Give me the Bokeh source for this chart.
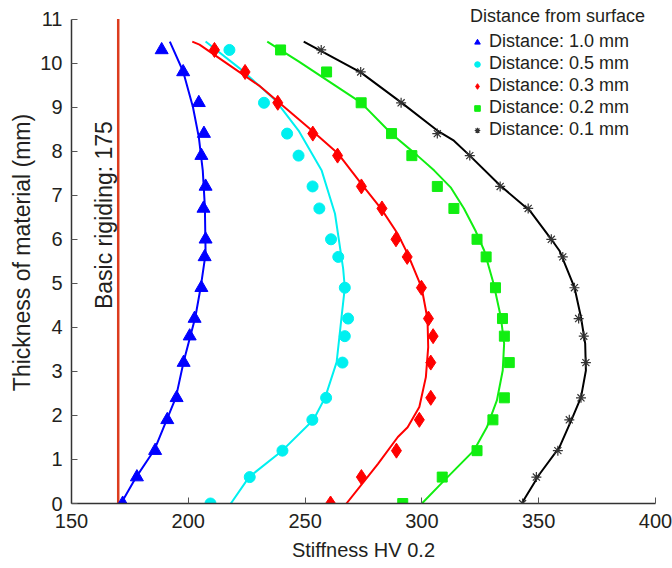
import math
from bokeh.plotting import figure
from bokeh.models import FixedTicker, Legend, LegendItem
from bokeh.core.properties import value
from bokeh.embed import file_html
from bokeh.resources import INLINE

FONT = "Liberation Sans"
TXT = "#231F20"

# ---- measured points (depth in mm) ----
depth = [10.3, 9.8, 9.1, 8.4, 7.9, 7.2, 6.7, 6.0, 5.6, 4.9, 4.2, 3.8, 3.2, 2.4, 1.9, 1.2, 0.6, 0.0]
depth_05 = [10.3, 9.1, 8.4, 7.9, 7.2, 6.7, 6.0, 5.6, 4.9, 4.2, 3.8, 3.2, 2.4, 1.9, 1.2, 0.6, 0.0]

hv_10 = [188.6, 197.8, 204.5, 206.7, 205.6, 207.4, 206.5, 207.4, 207.0, 205.6, 202.7, 200.6, 198.0, 195.0, 191.0, 185.8, 178.0, 171.9]
hv_05 = [217.6, 232.4, 242.3, 247.2, 253.2, 256.1, 261.1, 264.2, 267.0, 268.4, 267.0, 266.0, 259.0, 253.1, 240.3, 226.3, 209.5]
hv_03 = [211.2, 224.3, 238.3, 253.3, 263.9, 274.1, 282.9, 288.9, 293.7, 299.8, 302.8, 304.8, 303.8, 303.8, 298.9, 289.1, 274.1, 260.9]
hv_02 = [239.5, 259.2, 274.0, 287.0, 295.7, 306.6, 313.7, 323.6, 327.5, 331.5, 334.5, 335.3, 337.4, 335.3, 330.4, 323.6, 308.7, 291.8]
hv_01 = [256.9, 273.8, 291.1, 306.6, 320.5, 333.5, 345.5, 355.4, 360.3, 365.3, 367.1, 369.3, 370.2, 368.1, 363.1, 358.2, 349.0, 343.1]

# ---- fitted curves ----
fit10_x = [192.1, 197.8, 202.0, 204.5, 206.2, 207.1, 207.4, 205.3, 203.0, 198.0, 194.7, 185.5, 177.7, 171.2]
fit10_y = [10.49, 9.81, 9.0, 8.32, 7.56, 6.73, 5.67, 4.91, 4.23, 3.22, 2.41, 1.22, 0.6, 0.0]
fit05_x = [207.4, 223.2, 237.4, 247.2, 257.1, 262.8, 266.3, 267.0, 265.6, 263.5, 258.6, 253.6, 240.2, 226.0, 218.2]
fit05_y = [10.49, 9.83, 9.15, 8.47, 7.56, 6.58, 5.33, 4.9, 4.23, 3.21, 2.41, 1.90, 1.20, 0.60, 0.0]
fit03_x = [201.7, 204.8, 230.3, 252.9, 264.2, 274.1, 282.6, 289.7, 293.9, 299.9, 302.4, 302.7, 301.7, 298.9, 293.9, 289.7, 281.2, 267.7]
fit03_y = [10.49, 10.42, 9.49, 8.47, 7.94, 7.26, 6.69, 6.12, 5.67, 4.90, 4.19, 3.55, 2.87, 2.19, 1.73, 1.51, 0.90, 0.0]
fit02_x = [233.8, 247.2, 273.8, 287.1, 298.1, 305.3, 312.3, 318.0, 322.9, 326.7, 330.7, 333.8, 335.2, 334.6, 332.1, 327.8, 322.2, 309.5, 300.0]
fit02_y = [10.49, 10.04, 9.11, 8.39, 7.90, 7.56, 7.18, 6.70, 6.20, 5.74, 4.99, 4.23, 3.63, 3.02, 2.34, 1.73, 1.20, 0.52, 0.0]
fit01_x = [249.4, 273.8, 291.1, 306.6, 313.7, 320.5, 333.5, 346.2, 355.4, 358.9, 365.3, 368.1, 369.9, 370.2, 368.1, 363.9, 358.9, 350.4, 342.7]
fit01_y = [10.49, 9.79, 9.11, 8.47, 8.24, 7.90, 7.22, 6.65, 6.00, 5.74, 4.91, 4.23, 3.63, 3.02, 2.41, 1.88, 1.28, 0.67, 0.0]

base_x = [170, 170]
base_y = [0, 11]
base_label = "Basic rigiding: 175"

x_ticks = [150, 200, 250, 300, 350, 400]
y_ticks = list(range(0, 12))

labels = ["Distance: 1.0 mm", "Distance: 0.5 mm", "Distance: 0.3 mm", "Distance: 0.2 mm", "Distance: 0.1 mm"]

# y range extends a little above 11 so the legend title (above the axis top) is not clipped
p = figure(width=672, height=568, x_range=(150, 400), y_range=(0, 11.4),
           output_backend="svg", toolbar_location=None,
           min_border_left=71, min_border_right=17, min_border_top=1, min_border_bottom=65)
p.outline_line_color = None
p.xgrid.visible = False
p.ygrid.visible = False
p.background_fill_color = "white"

# baseline
p.line(base_x, base_y, line_color="#DC3C1E", line_width=2.5)
p.text(x=[164.0], y=[6.55], text=[base_label], angle=math.pi / 2,
       text_align="center", text_baseline="middle",
       text_font=value(FONT), text_font_size="23px", text_color=TXT)

# fitted curves
p.line(fit10_x, fit10_y, line_color="#0000FF", line_width=2)
p.line(fit05_x, fit05_y, line_color="#00F0F0", line_width=2)
p.line(fit03_x, fit03_y, line_color="#FF0000", line_width=2)
p.line(fit02_x, fit02_y, line_color="#11EE11", line_width=2)
p.line(fit01_x, fit01_y, line_color="#000000", line_width=2)

# points
r1 = p.scatter(hv_10, depth, marker="triangle", size=13, fill_color="#0000FF", line_color="#0000FF")
r2 = p.scatter(hv_05, depth_05, marker="circle", size=11, fill_color="#00F0F0", line_color="#00F0F0")
r3 = p.scatter(hv_03, depth, marker="diamond", size=15, fill_color="#FF0000", line_color="#FF0000")
r4 = p.scatter(hv_02, depth, marker="square", size=10, fill_color="#11EE11", line_color="#11EE11")
r5 = p.scatter(hv_01, depth, marker="asterisk", size=10, line_color="#333333", line_width=1.2)

legend = Legend(items=[LegendItem(label=l, renderers=[r]) for l, r in zip(labels, [r1, r2, r3, r4, r5])],
                location=(399, 363), title="Distance from surface",
                title_text_font=FONT, title_text_font_size="18px", title_text_font_style="normal",
                title_text_color=TXT, title_standoff=4,
                label_text_font=FONT, label_text_font_size="18px", label_text_color=TXT,
                glyph_width=14, glyph_height=20, label_height=20, spacing=1, label_standoff=5,
                padding=0, margin=0, border_line_color=None, background_fill_alpha=0)
p.add_layout(legend, "center")

for ax in (p.xaxis[0], p.yaxis[0]):
    ax.axis_line_color = "#333333"
    ax.axis_line_width = 1.5
    ax.major_tick_line_color = "#555555"
    ax.major_tick_in = 6
    ax.major_tick_out = 0
    ax.minor_tick_line_color = None
    ax.major_label_text_font = FONT
    ax.major_label_text_font_size = "20px"
    ax.major_label_text_color = TXT
    ax.axis_label_text_font = FONT
    ax.axis_label_text_font_style = "normal"
    ax.axis_label_text_color = TXT

p.xaxis.ticker = FixedTicker(ticks=x_ticks)
p.yaxis.ticker = FixedTicker(ticks=y_ticks)
p.yaxis.bounds = (0, 11)
p.xaxis.axis_label = "Stiffness HV 0.2"
p.yaxis.axis_label = "Thickness of material (mm)"
p.xaxis.axis_label_text_font_size = "20px"
p.yaxis.axis_label_text_font_size = "23px"
p.xaxis.major_label_standoff = 10
p.xaxis.axis_label_standoff = 8
p.yaxis.major_label_standoff = 9
p.yaxis.axis_label_standoff = 2

open("out.html", "w").write(file_html(p, INLINE))
